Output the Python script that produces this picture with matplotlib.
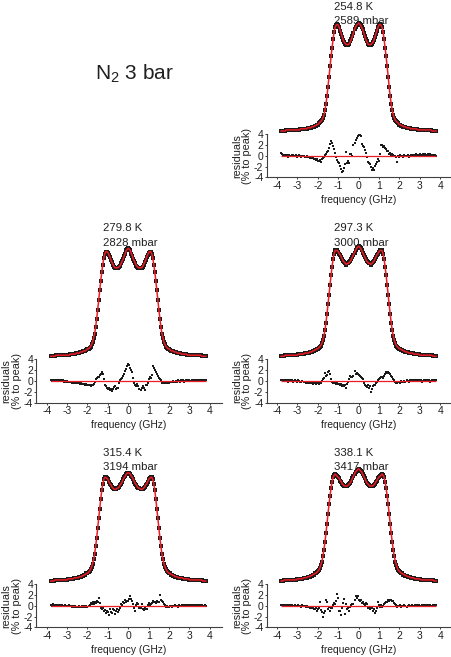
import numpy as np
import matplotlib
matplotlib.use("Agg")
import matplotlib.pyplot as plt

plt.rcParams["font.family"] = ["Liberation Sans", "DejaVu Sans"]
plt.rcParams["axes.unicode_minus"] = False

# sampling grid of the measured spectra (GHz)
FREQ = np.round(np.arange(-76, 77) * 0.05, 2)

TEMPS = ["254.8 K", "279.8 K", "297.3 K", "315.4 K", "338.1 K"]
PRESSURES = ["2589 mbar", "2828 mbar", "3000 mbar", "3194 mbar", "3417 mbar"]

# normalised spectra (-3.80 ... 3.80 GHz in 0.05 steps)
SPEC_254 = [
    0.00, 0.00, 0.00, 0.00, 0.00, 0.01, 0.01, 0.01, 0.01, 0.01,
    0.01, 0.01, 0.01, 0.01, 0.01, 0.01, 0.01, 0.01, 0.01, 0.02,
    0.02, 0.02, 0.02, 0.02, 0.02, 0.02, 0.03, 0.03, 0.03, 0.03,
    0.04, 0.04, 0.04, 0.05, 0.05, 0.06, 0.06, 0.07, 0.08, 0.09,
    0.10, 0.12, 0.15, 0.19, 0.25, 0.32, 0.41, 0.50, 0.60, 0.69,
    0.77, 0.85, 0.92, 0.96, 0.98, 0.99, 0.98, 0.96, 0.93, 0.90,
    0.87, 0.84, 0.82, 0.81, 0.80, 0.80, 0.80, 0.81, 0.83, 0.85,
    0.88, 0.91, 0.94, 0.96, 0.98, 0.99, 1.00, 0.99, 0.98, 0.96,
    0.94, 0.91, 0.88, 0.85, 0.83, 0.81, 0.80, 0.80, 0.80, 0.81,
    0.82, 0.84, 0.87, 0.90, 0.93, 0.96, 0.98, 0.99, 0.98, 0.96,
    0.92, 0.85, 0.77, 0.69, 0.60, 0.50, 0.41, 0.32, 0.25, 0.19,
    0.15, 0.12, 0.10, 0.09, 0.08, 0.07, 0.06, 0.06, 0.05, 0.05,
    0.04, 0.04, 0.04, 0.03, 0.03, 0.03, 0.03, 0.02, 0.02, 0.02,
    0.02, 0.02, 0.02, 0.02, 0.01, 0.01, 0.01, 0.01, 0.01, 0.01,
    0.01, 0.01, 0.01, 0.01, 0.01, 0.01, 0.01, 0.01, 0.00, 0.00,
    0.00, 0.00, 0.00,
]
SPEC_280 = [
    0.00, 0.00, 0.00, 0.00, 0.00, 0.01, 0.01, 0.01, 0.01, 0.01,
    0.01, 0.01, 0.01, 0.01, 0.01, 0.01, 0.01, 0.01, 0.01, 0.02,
    0.02, 0.02, 0.02, 0.02, 0.02, 0.03, 0.03, 0.03, 0.03, 0.04,
    0.04, 0.04, 0.05, 0.05, 0.05, 0.06, 0.07, 0.07, 0.08, 0.09,
    0.11, 0.13, 0.17, 0.21, 0.27, 0.35, 0.43, 0.52, 0.61, 0.70,
    0.78, 0.85, 0.91, 0.95, 0.97, 0.97, 0.96, 0.94, 0.92, 0.89,
    0.87, 0.85, 0.83, 0.82, 0.82, 0.82, 0.82, 0.83, 0.84, 0.86,
    0.88, 0.90, 0.93, 0.95, 0.98, 0.99, 1.00, 0.99, 0.98, 0.95,
    0.93, 0.90, 0.88, 0.86, 0.84, 0.83, 0.82, 0.82, 0.82, 0.82,
    0.83, 0.85, 0.87, 0.89, 0.92, 0.94, 0.96, 0.97, 0.97, 0.95,
    0.91, 0.85, 0.78, 0.70, 0.61, 0.52, 0.43, 0.35, 0.27, 0.21,
    0.17, 0.13, 0.11, 0.09, 0.08, 0.07, 0.07, 0.06, 0.05, 0.05,
    0.05, 0.04, 0.04, 0.04, 0.03, 0.03, 0.03, 0.03, 0.02, 0.02,
    0.02, 0.02, 0.02, 0.02, 0.01, 0.01, 0.01, 0.01, 0.01, 0.01,
    0.01, 0.01, 0.01, 0.01, 0.01, 0.01, 0.01, 0.01, 0.00, 0.00,
    0.00, 0.00, 0.00,
]
SPEC_297 = [
    0.00, 0.00, 0.00, 0.00, 0.01, 0.01, 0.01, 0.01, 0.01, 0.01,
    0.01, 0.01, 0.01, 0.01, 0.01, 0.01, 0.01, 0.02, 0.02, 0.02,
    0.02, 0.02, 0.02, 0.03, 0.03, 0.03, 0.03, 0.03, 0.04, 0.04,
    0.04, 0.05, 0.05, 0.06, 0.06, 0.07, 0.07, 0.08, 0.09, 0.10,
    0.12, 0.15, 0.19, 0.24, 0.31, 0.39, 0.48, 0.57, 0.66, 0.75,
    0.83, 0.90, 0.95, 0.98, 0.98, 0.98, 0.97, 0.95, 0.94, 0.92,
    0.90, 0.88, 0.87, 0.86, 0.85, 0.86, 0.86, 0.87, 0.88, 0.90,
    0.92, 0.94, 0.96, 0.98, 1.00, 1.01, 1.02, 1.01, 1.00, 0.98,
    0.96, 0.94, 0.92, 0.90, 0.88, 0.87, 0.86, 0.86, 0.85, 0.86,
    0.87, 0.88, 0.90, 0.92, 0.94, 0.95, 0.97, 0.98, 0.98, 0.98,
    0.95, 0.90, 0.83, 0.75, 0.66, 0.57, 0.48, 0.39, 0.31, 0.24,
    0.19, 0.15, 0.12, 0.10, 0.09, 0.08, 0.07, 0.07, 0.06, 0.06,
    0.05, 0.05, 0.04, 0.04, 0.04, 0.03, 0.03, 0.03, 0.03, 0.03,
    0.02, 0.02, 0.02, 0.02, 0.02, 0.02, 0.01, 0.01, 0.01, 0.01,
    0.01, 0.01, 0.01, 0.01, 0.01, 0.01, 0.01, 0.01, 0.01, 0.00,
    0.00, 0.00, 0.00,
]
SPEC_315 = [
    0.00, 0.00, 0.00, 0.00, 0.01, 0.01, 0.01, 0.01, 0.01, 0.01,
    0.01, 0.01, 0.01, 0.01, 0.01, 0.01, 0.01, 0.02, 0.02, 0.02,
    0.02, 0.02, 0.02, 0.03, 0.03, 0.03, 0.03, 0.03, 0.04, 0.04,
    0.04, 0.05, 0.05, 0.06, 0.06, 0.07, 0.07, 0.08, 0.09, 0.11,
    0.13, 0.16, 0.20, 0.25, 0.32, 0.40, 0.49, 0.58, 0.67, 0.76,
    0.84, 0.90, 0.94, 0.96, 0.96, 0.95, 0.94, 0.92, 0.90, 0.89,
    0.87, 0.86, 0.85, 0.85, 0.85, 0.86, 0.86, 0.87, 0.89, 0.90,
    0.92, 0.94, 0.96, 0.97, 0.99, 1.00, 1.00, 1.00, 0.99, 0.97,
    0.96, 0.94, 0.92, 0.90, 0.89, 0.87, 0.86, 0.86, 0.85, 0.85,
    0.85, 0.86, 0.87, 0.89, 0.90, 0.92, 0.94, 0.95, 0.96, 0.96,
    0.94, 0.90, 0.84, 0.76, 0.67, 0.58, 0.49, 0.40, 0.32, 0.25,
    0.20, 0.16, 0.13, 0.11, 0.09, 0.08, 0.07, 0.07, 0.06, 0.06,
    0.05, 0.05, 0.04, 0.04, 0.04, 0.03, 0.03, 0.03, 0.03, 0.03,
    0.02, 0.02, 0.02, 0.02, 0.02, 0.02, 0.01, 0.01, 0.01, 0.01,
    0.01, 0.01, 0.01, 0.01, 0.01, 0.01, 0.01, 0.01, 0.01, 0.00,
    0.00, 0.00, 0.00,
]
SPEC_338 = [
    0.00, 0.00, 0.00, 0.01, 0.01, 0.01, 0.01, 0.01, 0.01, 0.01,
    0.01, 0.01, 0.01, 0.01, 0.01, 0.01, 0.02, 0.02, 0.02, 0.02,
    0.02, 0.02, 0.03, 0.03, 0.03, 0.03, 0.04, 0.04, 0.04, 0.05,
    0.05, 0.06, 0.06, 0.07, 0.07, 0.08, 0.09, 0.10, 0.12, 0.15,
    0.18, 0.23, 0.29, 0.36, 0.44, 0.53, 0.62, 0.71, 0.79, 0.86,
    0.92, 0.96, 0.98, 0.99, 0.98, 0.97, 0.96, 0.95, 0.93, 0.92,
    0.90, 0.89, 0.88, 0.88, 0.88, 0.88, 0.89, 0.90, 0.91, 0.93,
    0.95, 0.97, 0.99, 1.01, 1.02, 1.03, 1.04, 1.03, 1.02, 1.01,
    0.99, 0.97, 0.95, 0.93, 0.91, 0.90, 0.89, 0.88, 0.88, 0.88,
    0.88, 0.89, 0.90, 0.92, 0.93, 0.95, 0.96, 0.97, 0.98, 0.99,
    0.98, 0.96, 0.92, 0.86, 0.79, 0.71, 0.62, 0.53, 0.44, 0.36,
    0.29, 0.23, 0.18, 0.15, 0.12, 0.10, 0.09, 0.08, 0.07, 0.07,
    0.06, 0.06, 0.05, 0.05, 0.04, 0.04, 0.04, 0.03, 0.03, 0.03,
    0.03, 0.02, 0.02, 0.02, 0.02, 0.02, 0.02, 0.01, 0.01, 0.01,
    0.01, 0.01, 0.01, 0.01, 0.01, 0.01, 0.01, 0.01, 0.01, 0.01,
    0.00, 0.00, 0.00,
]

# fit residuals (% to peak), same grid
RES_254 = [
    0.5, 0.3, 0.1, -0.1, 0.2, 0.0, 0.1, -0.2, 0.1, 0.0,
    -0.1, 0.2, 0.1, -0.1, 0.0, 0.1, -0.2, 0.0, 0.1, -0.1,
    -0.2, 0.0, -0.1, -0.3, -0.2, -0.1, -0.3, -0.2, -0.4, -0.3,
    -0.5, -0.4, -0.6, -0.7, -0.8, -0.7, -0.9, -1.0, -0.8, -1.1,
    -0.7, -0.5, -0.2, 0.1, 0.4, 0.6, 0.9, 1.4, 2.1, 2.8,
    2.4, 1.7, 1.2, 0.5, -0.3, -0.8, -1.2, -1.4, -1.9, -2.5,
    -3.0, -2.9, -2.2, -1.6, 0.7, -1.4, -1.0, -1.3, 0.4, 0.3,
    0.0, 2.0, 2.4, 2.9, 3.3, 3.6, 3.8, 3.9, 3.7, 2.2,
    1.8, 1.6, 1.1, 0.5, -0.2, -1.1, -1.3, -1.6, -2.0, -2.6,
    -2.3, -2.7, -1.9, -1.5, -1.2, -0.7, -0.9, 0.3, 2.0, 1.9,
    1.6, 1.8, 1.4, 1.2, 0.8, 0.9, 0.4, 0.5, 0.2, 0.3,
    0.1, -0.1, 0.0, -0.2, -1.1, 0.0, -0.2, 0.1, -0.1, 0.0,
    -0.2, 0.1, 0.0, -0.1, 0.1, -0.2, 0.0, 0.2, 0.1, -0.1,
    0.2, 0.0, 0.3, 0.1, 0.2, 0.0, 0.3, 0.1, 0.2, 0.4,
    0.1, 0.3, 0.0, 0.2, 0.4, 0.1, 0.3, 0.0, 0.2, 0.1,
    -0.1, 0.2, 0.0,
]
RES_280 = [
    0.1, 0.0, 0.2, 0.1, 0.0, 0.1, 0.2, 0.0, 0.1, 0.2,
    0.1, 0.0, 0.1, -0.1, 0.0, -0.1, 0.0, -0.2, -0.1, -0.2,
    -0.1, -0.3, -0.2, -0.3, -0.2, -0.4, -0.3, -0.4, -0.3, -0.5,
    -0.4, -0.6, -0.5, -0.6, -0.7, -0.6, -0.8, -0.7, -0.8, -0.9,
    -0.7, -0.8, -0.5, -0.1, 0.3, 0.6, 0.8, 0.7, 1.1, 1.3,
    1.6, 1.2, 0.4, -0.7, -1.0, -1.3, -1.5, -1.2, -1.7, -1.4,
    -1.8, -1.5, -1.1, -1.0, -1.4, -1.2, -1.3, -0.3, 0.2, 0.4,
    0.6, 0.9, 1.3, 1.8, 2.2, 2.7, 3.1, 2.9, 2.4, 2.0,
    1.6, 0.5, -0.3, -0.7, -1.0, -0.6, -0.9, -1.4, -1.6, -1.2,
    -0.9, -1.3, -1.6, -0.8, -0.7, -0.3, 0.3, 0.8, 0.5, 1.1,
    2.7, 2.4, 2.0, 1.6, 1.3, 0.9, 0.6, 0.3, 0.1, -0.3,
    -0.4, -0.2, -0.3, -0.2, -0.4, -0.1, -0.3, -0.2, -0.1, -0.2,
    0.0, -0.1, -0.2, 0.0, -0.1, 0.1, 0.0, -0.1, 0.1, 0.0,
    0.1, -0.1, 0.0, 0.1, 0.0, 0.2, 0.1, 0.0, 0.1, 0.2,
    0.0, 0.1, 0.0, 0.2, 0.1, 0.0, 0.1, 0.2, 0.0, 0.1,
    0.2, 0.0, 0.1,
]
RES_297 = [
    0.1, 0.2, 0.0, 0.1, 0.2, 0.0, 0.1, -0.1, 0.1, 0.2,
    0.0, 0.1, -0.1, 0.0, 0.1, 0.0, -0.1, 0.1, 0.0, -0.2,
    -0.1, 0.0, -0.2, -0.1, -0.3, -0.2, -0.4, -0.3, -0.2, -0.4,
    -0.3, -0.5, -0.4, -0.3, -0.5, -0.4, -0.3, -0.5, -0.2, -0.4,
    0.0, 0.3, 0.6, 1.4, 0.9, 1.1, 1.6, 1.8, 1.2, 0.4,
    -0.2, -0.3, -0.4, -0.2, -0.5, -0.3, -0.6, -0.5, -0.8, -0.6,
    -0.9, -0.7, -1.0, -0.8, -1.3, -0.6, -0.2, 0.3, 0.9, 0.8,
    0.7, 1.0, 1.8, 1.3, 1.5, 1.2, 1.1, 1.0, 0.8, 0.6,
    0.3, -0.4, -0.7, -0.9, -1.1, -0.8, -1.2, -1.0, -2.1, -1.4,
    -1.0, -0.7, -0.8, -0.4, -0.2, 0.1, 0.3, 0.5, 0.8, 0.7,
    0.6, 1.0, 1.2, 1.6, 1.5, 1.7, 1.4, 1.3, 0.9, 0.7,
    0.4, 0.1, -0.2, -0.4, -0.3, -0.2, -0.1, -0.3, 0.0, -0.1,
    -0.2, 0.0, -0.1, 0.1, 0.0, -0.1, 0.1, 0.0, 0.2, 0.1,
    0.0, 0.1, 0.2, 0.0, 0.1, 0.2, 0.0, 0.1, -0.1, 0.0,
    0.1, 0.0, 0.2, 0.1, 0.0, 0.1, -0.1, 0.0, 0.1, 0.2,
    0.0, 0.1, 0.2,
]
RES_315 = [
    0.2, 0.0, 0.3, 0.1, 0.2, 0.0, 0.1, 0.2, 0.0, 0.1,
    -0.1, 0.1, 0.0, -0.1, 0.1, 0.0, -0.1, 0.0, 0.1, -0.1,
    0.0, -0.2, -0.1, -0.2, -0.1, -0.2, -0.3, -0.2, -0.1, -0.2,
    -0.3, -0.1, -0.2, 0.0, -0.2, -0.1, -0.2, 0.0, 0.2, 0.5,
    0.3, 0.6, 0.4, 0.7, 0.5, 0.8, 0.6, 1.4, 0.5, -0.4,
    -0.7, -0.5, -1.0, -0.8, -1.4, -0.9, -1.2, -1.8, -0.7, -1.1,
    -1.3, -0.6, -0.8, -1.5, -1.0, -0.7, -1.1, -0.8, -0.4, 0.4,
    0.2, 0.6, 0.5, 1.1, 0.7, 0.9, 0.8, 1.2, 1.7, 1.3,
    0.8, 0.4, -0.5, -1.0, 0.2, 0.5, 0.3, -0.4, -0.5, 0.4,
    -0.6, -0.8, -0.4, -0.7, -0.6, 0.2, 0.5, 0.2, 0.4, 0.5,
    0.8, 0.6, 0.7, 0.5, 0.8, 0.6, 0.7, 2.0, 1.1, 0.9,
    0.6, 0.3, 0.1, -0.2, -0.1, -0.3, -0.2, 0.0, -0.1, -0.2,
    0.0, -0.1, 0.1, -0.1, 0.0, -0.2, 0.1, 0.0, -0.1, 0.1,
    0.0, 0.2, 0.1, 0.0, 0.2, 0.1, 0.0, 0.1, 0.2, 0.0,
    0.1, 0.2, 0.0, 0.1, 0.0, 0.1, 0.2, 0.0, 0.1, -0.1,
    0.0, 0.1, 0.0,
]
RES_338 = [
    0.2, 0.1, 0.2, 0.0, 0.1, 0.2, 0.0, 0.1, -0.1, 0.1,
    0.0, 0.2, -0.1, 0.0, 0.1, -0.1, 0.0, 0.1, -0.1, 0.0,
    -0.2, 0.1, -0.1, 0.0, -0.2, -0.1, -0.3, -0.2, -0.4, -0.3,
    -0.5, -0.4, -0.6, -0.7, -0.5, -1.0, -0.6, -0.4, 0.6, -0.8,
    -1.1, -2.1, -1.4, -0.9, 1.1, 0.6, -0.7, -0.3, -1.0, -0.5,
    -0.4, 0.2, 0.5, 0.4, 0.8, 2.2, 1.4, -1.0, -0.9, -1.8,
    -0.4, 0.5, 1.3, -1.6, 0.3, -0.7, -0.5, -1.0, -0.3, 0.1,
    0.4, 0.3, 1.0, 1.7, 1.5, 1.8, 1.1, 0.9, 1.0, 0.5,
    0.6, 0.4, 0.2, 0.5, 0.3, -0.5, -0.3, -0.6, -0.2, -0.5,
    -1.0, -0.6, -1.3, -0.9, -0.4, 0.7, 0.2, -0.2, 0.1, -0.3,
    -0.1, 0.3, 0.5, 0.7, 0.6, 1.0, 0.8, 1.0, 1.1, 0.9,
    0.8, 0.5, 0.3, 0.1, -0.2, 0.0, -0.1, 0.1, -0.2, 0.0,
    -0.1, 0.1, 0.0, -0.2, 0.0, 0.1, -0.1, 0.0, 0.1, -0.1,
    0.0, 0.1, 0.0, 0.2, 0.0, 0.1, -0.1, 0.0, 0.1, 0.2,
    0.0, 0.1, 0.0, 0.1, 0.2, 0.0, 0.1, -0.1, 0.0, 0.1,
    0.2, 0.0, 0.1,
]

SPECTRA = [SPEC_254, SPEC_280, SPEC_297, SPEC_315, SPEC_338]
RESIDUALS = [RES_254, RES_280, RES_297, RES_315, RES_338]
for arr in SPECTRA + RESIDUALS:
    assert len(arr) == len(FREQ), len(arr)

# layout in pixels: (left edge of axes, top of residual axes)
W, H = 452, 657
PANELS = [(266.8, 134.0), (36.5, 359.3), (266.8, 359.3), (36.5, 584.0), (266.8, 584.0)]
AX_W, RES_H, SPEC_H = 185.6, 43.4, 116.0
XLIM = (-4.5, 4.6)
PX_PER_UNIT = 108.0  # spectrum height scale
RED = "#ed1c24"
INK = "#1a1a1a"


def rect(left, top, width, height):
    return [left / W, 1 - (top + height) / H, width / W, height / H]


def xpix(left, f):
    return left + (f - XLIM[0]) * AX_W / (XLIM[1] - XLIM[0])


fig = plt.figure(figsize=(W / 100, H / 100), dpi=100)

for (left, top), temp, pres, spec, res in zip(PANELS, TEMPS, PRESSURES, SPECTRA, RESIDUALS):
    # residuals
    ra = fig.add_axes(rect(left, top, AX_W, RES_H))
    ra.plot(FREQ, res, "s", ms=1.5, mew=0, color=INK, zorder=2)
    ra.hlines(0, FREQ[0], FREQ[-1], color=RED, lw=0.9, zorder=3)
    ra.set_xlim(*XLIM)
    ra.set_ylim(-4, 4)
    ra.set_xticks(range(-4, 5))
    ra.set_yticks([-4, -2, 0, 2, 4])
    for s in ("top", "right"):
        ra.spines[s].set_visible(False)
    for s in ("left", "bottom"):
        ra.spines[s].set_color("#404040")
        ra.spines[s].set_linewidth(0.8)
    ra.tick_params(labelsize=7.5, length=1.5, width=0.6, pad=1, colors="#202020")
    ra.patch.set_alpha(0)

    fig.text((left - 25) / W, 1 - (top + RES_H / 2) / H, "residuals\n(% to peak)",
             rotation=90, ha="center", va="center", fontsize=7.8, linespacing=1.0,
             multialignment="center", color="#202020")
    fig.text(xpix(left, 0.0) / W, 1 - (top + RES_H + 22.5) / H, "frequency (GHz)",
             ha="center", va="center", fontsize=7.4, color="#202020")

    # spectrum (no visible axes)
    sa = fig.add_axes(rect(left, top - SPEC_H, AX_W, SPEC_H))
    sa.axis("off")
    sa.set_xlim(*XLIM)
    lo = -3.0 / PX_PER_UNIT
    sa.set_ylim(lo, lo + SPEC_H / PX_PER_UNIT)
    sa.plot(FREQ, spec, "s", ms=2.6, mew=0, color=INK, clip_on=False, zorder=2)
    sa.plot(FREQ, spec, "-", color=RED, lw=1.1, clip_on=False, zorder=3)

    y_temp = max(top - 131, 6.5)
    fig.text(xpix(left, -1.22) / W, 1 - y_temp / H, temp, ha="left",
             va="center", fontsize=8.2, color="#202020")
    fig.text(xpix(left, -1.22) / W, 1 - (y_temp + 14.5) / H, pres, ha="left",
             va="center", fontsize=8.2, color="#202020")

fig.text(95 / W, 1 - 74 / H, r"N$_\mathregular{2}$ 3 bar", ha="left", va="center",
         fontsize=15, color="#202020")

fig.savefig("out.png", dpi=100)
